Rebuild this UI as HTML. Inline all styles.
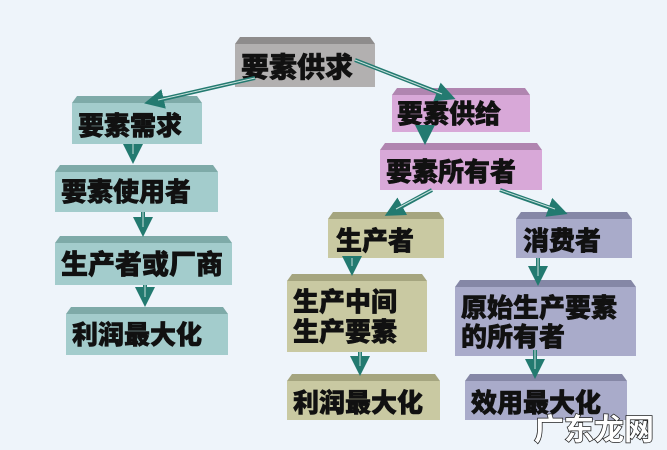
<!DOCTYPE html>
<html><head><meta charset="utf-8"><style>
html,body{margin:0;padding:0;background:#eef4fa;}
svg{display:block;}
text{font-family:"Liberation Sans","Noto Sans CJK SC",sans-serif;font-weight:900;font-size:26px;fill:#111;stroke:#111;stroke-width:0.6;}
</style></head><body>
<svg width="667" height="450" viewBox="0 0 667 450">
<defs>
<marker id="ah" markerWidth="5" markerHeight="5" refX="3.5" refY="2.5" orient="auto" markerUnits="strokeWidth">
<path d="M0,0 L5,2.5 L0,5 Z" fill="#237a70"/>
</marker>
</defs>
<rect width="667" height="450" fill="#eef4fa"/>
<g>
<rect x="235" y="44" width="140" height="43" fill="#b2b0b0"/><polygon points="235,44 240,37 370,37 375,44" fill="#8e8c8c"/>
<text x="241" y="77" style="font-size:28px">要素供求</text>
<rect x="72" y="103" width="130" height="41" fill="#a3cccc"/><polygon points="72,103 77,96 197,96 202,103" fill="#7eaaa8"/>
<text x="78" y="135">要素需求</text>
<rect x="55" y="172" width="163" height="40" fill="#a3cccc"/><polygon points="55,172 60,165 213,165 218,172" fill="#7eaaa8"/>
<text x="61" y="201">要素使用者</text>
<rect x="55" y="243" width="177" height="42" fill="#a3cccc"/><polygon points="55,243 60,236 227,236 232,243" fill="#7eaaa8"/>
<text x="61" y="274" style="font-size:27px">生产者或厂商</text>
<rect x="66" y="314" width="162" height="41" fill="#a3cccc"/><polygon points="66,314 71,307 223,307 228,314" fill="#7eaaa8"/>
<text x="72" y="344">利润最大化</text>
<rect x="392" y="95" width="138" height="37" fill="#d8a8d8"/><polygon points="392,95 397,88 525,88 530,95" fill="#b085b0"/>
<text x="397" y="123">要素供给</text>
<rect x="380" y="150" width="162" height="40" fill="#d8a8d8"/><polygon points="380,150 385,143 537,143 542,150" fill="#b085b0"/>
<text x="386" y="181">要素所有者</text>
<rect x="328" y="219" width="116" height="39" fill="#c9c9a2"/><polygon points="328,219 333,212 439,212 444,219" fill="#a5a57f"/>
<text x="336" y="250">生产者</text>
<rect x="516" y="219" width="116" height="39" fill="#a9abca"/><polygon points="516,219 521,212 627,212 632,219" fill="#8587a6"/>
<text x="523" y="250">消费者</text>
<rect x="287" y="281" width="140" height="71" fill="#c9c9a2"/><polygon points="287,281 292,274 422,274 427,281" fill="#a5a57f"/>
<text x="293" y="311">生产中间</text><text x="293" y="341">生产要素</text>
<rect x="455" y="287" width="181" height="69" fill="#a9abca"/><polygon points="455,287 460,280 631,280 636,287" fill="#8587a6"/>
<text x="461" y="317">原始生产要素</text><text x="461" y="346">的所有者</text>
<rect x="287" y="381" width="153" height="39" fill="#c9c9a2"/><polygon points="287,381 292,374 435,374 440,381" fill="#a5a57f"/>
<text x="293" y="412">利润最大化</text>
<rect x="465" y="381" width="162" height="39" fill="#a9abca"/><polygon points="465,381 470,374 622,374 627,381" fill="#8587a6"/>
<text x="471" y="412">效用最大化</text>
</g>
<g stroke="#237a70" stroke-width="4" fill="none" marker-end="url(#ah)">
<line x1="255" y1="78" x2="150" y2="102"/>
<line x1="355" y1="60" x2="450" y2="97"/>
<line x1="133" y1="144" x2="133" y2="158"/>
<line x1="143" y1="212" x2="143" y2="231"/>
<line x1="145" y1="285" x2="145" y2="301"/>
<line x1="425" y1="132" x2="425" y2="139"/>
<line x1="432" y1="190" x2="390" y2="213"/>
<line x1="500" y1="190" x2="562" y2="212"/>
<line x1="352" y1="258" x2="352" y2="270"/>
<line x1="538" y1="258" x2="538" y2="280"/>
<line x1="360" y1="352" x2="360" y2="370"/>
<line x1="535" y1="350" x2="535" y2="373"/>
</g>
<g stroke="#c8e0dc" stroke-width="1" fill="none">
<line x1="255" y1="78" x2="158" y2="100"/>
<line x1="355" y1="60" x2="442" y2="94"/>
<line x1="133" y1="144" x2="133" y2="154"/>
<line x1="143" y1="212" x2="143" y2="227"/>
<line x1="145" y1="285" x2="145" y2="297"/>
<line x1="432" y1="190" x2="396" y2="209"/>
<line x1="500" y1="190" x2="555" y2="209"/>
<line x1="352" y1="258" x2="352" y2="266"/>
<line x1="538" y1="258" x2="538" y2="276"/>
<line x1="360" y1="352" x2="360" y2="366"/>
<line x1="535" y1="350" x2="535" y2="369"/>
</g>
<text x="534" y="440" style="font-size:30px;fill:#fff;stroke:#222;stroke-width:1.5;paint-order:stroke;font-weight:bold">广东龙网</text>
</svg>
</body></html>
